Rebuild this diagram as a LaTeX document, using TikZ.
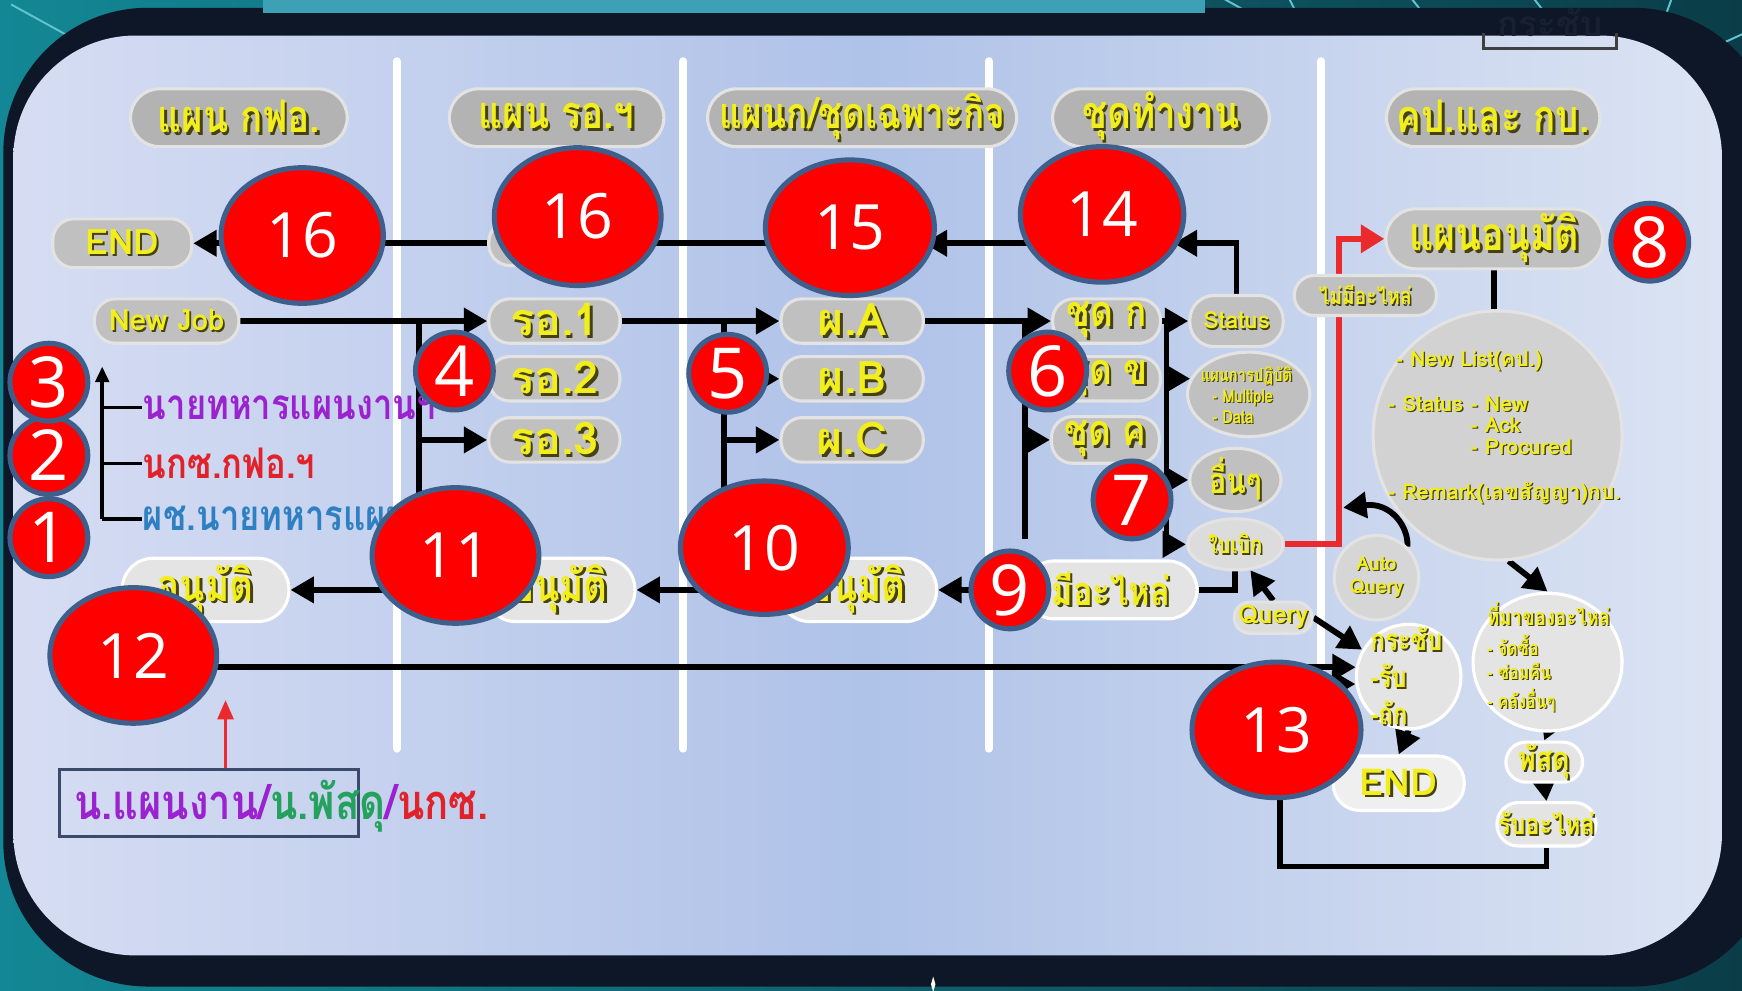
\documentclass[tikz,border=0pt]{standalone}
\usepackage{fontspec}
\usetikzlibrary{arrows.meta,calc,shapes.geometric}
\newfontfamily\thai[Script=Thai]{Loma}
\newfontfamily\thaic[Script=Thai,FakeStretch=0.82]{Loma}
\newfontfamily\numf{Open Sans}
\definecolor{ylw}{HTML}{F2EE1E}
\definecolor{ysh}{HTML}{45420F}
\definecolor{hdrc}{HTML}{B3B3B3}
\definecolor{pillc}{HTML}{C0C0C0}
\definecolor{pilll}{HTML}{E4E4E4}
\definecolor{c1}{HTML}{DCDCDC}
\definecolor{c2}{HTML}{D6D6D6}
\definecolor{c3}{HTML}{EFEFEF}
\definecolor{c4}{HTML}{D2D2D2}
\definecolor{rimc}{HTML}{3E5E8C}
\definecolor{tealA}{HTML}{138795}
\definecolor{tealB}{HTML}{0A3D48}
\definecolor{framec}{HTML}{0D1728}
\definecolor{panelL}{HTML}{D6DDF3}
\definecolor{panelM}{HTML}{AFC2E8}
\definecolor{panelR}{HTML}{DCE4F3}
\definecolor{purp}{HTML}{9B22CF}
\definecolor{redt}{HTML}{E2222B}
\definecolor{bluet}{HTML}{2E80C2}
\definecolor{grn}{HTML}{24A15C}
\definecolor{redl}{HTML}{EB2A2E}
\definecolor{rayc}{HTML}{63C3D0}
\definecolor{barc}{HTML}{3DA0B5}
\definecolor{boxc}{HTML}{3B4A6B}
\definecolor{faint}{HTML}{182032}
\newcommand\yl[1]{\makebox[0pt][l]{\kern0.06em\raisebox{-0.06em}{\textcolor{ysh}{#1}}}\textcolor{ylw}{#1}}
\newcommand\fs[1]{\fontsize{#1}{#1}\selectfont}
\pgfdeclarelayer{bg}\pgfdeclarelayer{lines}\pgfdeclarelayer{top}
\pgfsetlayers{bg,lines,main,top}
\tikzset{
  th/.style={font=\thai\bfseries\fs{#1}},
  thc/.style={font=\thaic\bfseries\fs{#1}},
  pill/.style={rounded corners=0.19cm, fill=pillc, draw=white!55!pillc, line width=0.8pt, inner sep=0pt},
  lpill/.style={pill, fill=pilll, draw=white},
  hdr/.style={pill, fill=hdrc, minimum height=0.52cm, rounded corners=0.26cm, thc=11.5},
  rowp/.style={pill, minimum height=0.40cm, th=11.5},
  oval/.style={ellipse, fill=pillc, draw=white!55!pillc, line width=0.8pt, inner sep=0pt},
  loval/.style={oval, fill=pilll, draw=white},
  txt/.style={inner sep=0pt},
  numE/.style={ellipse, fill=red, draw=rimc, line width=1.3pt, text=white, inner sep=0pt, font=\numf\fs{16}},
  numS/.style={numE, minimum width=0.70cm, minimum height=0.70cm, font=\numf\fs{18}},
  ln/.style={line width=1.5pt},
  arr/.style={line width=1.5pt, -{Triangle[length=6pt,width=6.5pt]}},
  redarr/.style={draw=redl, line width=1.6pt, -{Triangle[length=6pt,width=7pt]}},
  legl/.style={line width=0.9pt},
  sepl/.style={draw=white, line width=0.07cm, line cap=round},
  rayl/.style={draw=rayc, line width=0.5pt},
}
\begin{document}
\begin{tikzpicture}[x=0.01cm,y=-0.01cm]
\useasboundingbox (0,0) rectangle (1568,892);
\begin{pgfonlayer}{bg}
\shade[left color=tealA, right color=tealB] (0,0) rectangle (1568,892);
\draw[rayl] (1100,-2) -- (1150,26);
\draw[rayl] (1160,-2) -- (1174,26);
\draw[rayl] (1270,-2) -- (1292,26);
\draw[rayl] (1380,-2) -- (1402,26);
\draw[rayl] (1505,-2) -- (1486,50);
\draw[rayl] (1500,62) -- (1570,30);
\draw[rayl] (1530,120) -- (1570,100);
\draw[rayl] (10,4) -- (90,48);
\fill[framec, rounded corners=1.3cm] (3,7) rectangle (1600,888);
\fill[barc] (237,0) rectangle (1085,12);
\shade[rounded corners=1.1cm, left color=panelL, right color=panelR, middle color=panelM] (12,32) rectangle (1550,860);
\fill[white!90!yellow] (840,879) -- (842,886) -- (840,893) -- (838,886) -- cycle;
\node[th=9, text=faint] (tb) at (1395,20) {กระชับ};
\draw[black!75, line width=0.7pt] (1335,30) -- (1335,44) -- (1455,44) -- (1455,30);
\draw[sepl] (357,55) -- (357,674);
\draw[sepl] (615,55) -- (615,674);
\draw[sepl] (890,55) -- (890,674);
\draw[sepl] (1189,55) -- (1189,674);
\end{pgfonlayer}

% headers
\node[hdr, minimum width=1.95cm] (h1) at (215,106) {\yl{แผน กฟอ.}};
\node[hdr, minimum width=1.93cm] (h2) at (501,106) {\yl{แผน รอ.ฯ}};
\node[hdr, minimum width=2.78cm, thc=11] (h3) at (776,106) {\yl{แผนก/ชุดเฉพาะกิจ}};
\node[hdr, minimum width=1.95cm] (h4) at (1045,106) {\yl{ชุดทำงาน}};
\node[hdr, minimum width=1.92cm] (h5) at (1344,106) {\yl{คป.และ กบ.}};

% top row
\node[pill, minimum width=1.25cm, minimum height=0.44cm, th=9] (end1) at (110,219) {\yl{END}};
\node[pill, minimum width=1.20cm, minimum height=0.40cm] (p2) at (500,219) {};
\node[pill, minimum width=1.20cm, minimum height=0.40cm] (p3) at (770,219) {};
\node[pill, minimum width=1.10cm, minimum height=0.40cm] (p4) at (1000,219) {};

% rows
\node[pill, minimum width=1.30cm, minimum height=0.40cm, th=7.5] (nj) at (150,289) {\yl{New Job}};
\node[rowp, minimum width=1.18cm] (r1) at (499,289) {\yl{รอ.1}};
\node[rowp, minimum width=1.18cm] (r2) at (499,341) {\yl{รอ.2}};
\node[rowp, minimum width=1.18cm] (r3) at (499,396) {\yl{รอ.3}};
\node[rowp, minimum width=1.28cm] (pa) at (767,289) {\yl{ผ.A}};
\node[rowp, minimum width=1.28cm] (pb) at (767,341) {\yl{ผ.B}};
\node[rowp, minimum width=1.28cm] (pcc) at (767,396) {\yl{ผ.C}};
\node[rowp, minimum width=0.97cm, thc=11] (ka) at (996,289) {\yl{ชุด ก}};
\node[rowp, minimum width=0.97cm, thc=11] (kb) at (996,341) {\yl{ชุด ข}};
\node[rowp, minimum width=0.97cm, minimum height=0.42cm, thc=11] (kc) at (995,396) {\yl{ชุด ค}};
\node[pill, rounded corners=0.22cm, minimum width=0.84cm, minimum height=0.46cm, th=6] (st) at (1113,289) {\yl{Status}};
\node[oval, minimum width=1.10cm, minimum height=0.76cm] (pl) at (1124,355) {};
\node[txt, thc=4.6, align=left] (plt) at (1122,356) {\yl{แผนการปฏิบัติ}\\[0.8pt]\hspace*{3pt}\yl{- Multiple}\\[0.8pt]\hspace*{3pt}\yl{- Data}};
\node[oval, minimum width=0.82cm, minimum height=0.48cm, thc=9] (ot) at (1112,432) {\yl{อื่นๆ}};
\node[oval, fill=c1, minimum width=0.86cm, minimum height=0.46cm, thc=6.3] (bb) at (1112,490) {\yl{ใบเบิก}};
\node[lpill, rounded corners=0.26cm, minimum width=1.55cm, minimum height=0.52cm, thc=10.2] (mi) at (1000,531) {\yl{มีอะไหล่}};
\node[lpill, rounded corners=0.28cm, minimum width=1.42cm, minimum height=0.57cm, thc=11.5] (a3) at (772,531) {\yl{อนุมัติ}};
\node[lpill, rounded corners=0.28cm, minimum width=1.35cm, minimum height=0.57cm, thc=11.5] (a2) at (504,531) {\yl{อนุมัติ}};
\node[lpill, rounded corners=0.28cm, minimum width=1.50cm, minimum height=0.57cm, thc=11.5] (a1) at (185,531) {\yl{อนุมัติ}};
\node[pill, fill=c1, rounded corners=0.14cm, minimum width=0.70cm, minimum height=0.28cm, th=6.5] (q) at (1146,556) {\yl{Query}};
\node[oval, fill=c2, minimum size=0.76cm] (aq) at (1239,520) {};
\node[txt, th=5, align=center] (aqx) at (1239,520) {\yl{Auto}\\[1pt]\yl{Query}};
\node[loval, minimum size=0.94cm] (kr) at (1268,609) {};
\node[txt, thc=7.5, align=left] (krt) at (1266,609) {\yl{กระชับ}\\[2pt]\yl{-รับ}\\[2pt]\yl{-ถัก}};
\node[lpill, fill=c3, rounded corners=0.24cm, minimum width=1.18cm, minimum height=0.49cm, th=9.5] (e2) at (1259,705) {\yl{END}};
\node[loval, minimum width=1.34cm, minimum height=1.24cm] (src) at (1393,596) {};
\node[txt, thc=5, align=left] (srct) at (1394,592) {{\fs{5.8}\yl{ที่มาของอะไหล่}}\\[1pt]\yl{- จัดซื้อ}\\[1pt]\yl{- ซ่อมคืน}\\[1pt]\yl{- คลังอื่นๆ}};
\node[lpill, rounded corners=0.18cm, minimum width=0.69cm, minimum height=0.36cm, thc=8.4] (ps) at (1390,686) {\yl{พัสดุ}};
\node[lpill, rounded corners=0.19cm, minimum width=0.89cm, minimum height=0.39cm, thc=7.3] (rb) at (1392,742) {\yl{รับอะไหล่}};
\node[oval, fill=c4, minimum size=2.24cm] (big) at (1348,392) {};
\node[txt, th=5.5, align=left] (bigt) at (1354,385) {\hspace*{2pt}\yl{- New List(คป.)}\\[6pt]\yl{- Status - New}\\[0pt]\phantom{- Status }\yl{- Ack}\\[0pt]\phantom{- Status }\yl{- Procured}\\[6pt]\yl{- Remark(เลขสัญญา)กบ.}};
\node[pill, rounded corners=0.27cm, minimum width=1.95cm, minimum height=0.54cm, thc=11.8] (ap) at (1345,215) {\yl{แผนอนุมัติ}};
\node[pill, rounded corners=0.18cm, minimum width=1.28cm, minimum height=0.36cm, thc=6] (nm) at (1229,266) {\yl{ไม่มีอะไหล่}};

% legend
\coordinate (lgt) at (92,330);
\coordinate (lgb) at (92,467);
\node[thc=10.8, text=purp, anchor=west, inner sep=0pt] (lg3) at (128,367) {นายทหารแผนงานฯ};
\node[thc=10.8, text=redt, anchor=west, inner sep=0pt] (lg2) at (128,417) {นกซ.กฟอ.ฯ};
\node[thc=10.8, text=bluet, anchor=west, inner sep=0pt] (lg1) at (128,467) {ผช.นายทหารแผนงานฯ};

% bottom box
\node[draw=boxc, line width=0.8pt, minimum width=2.69cm, minimum height=0.60cm, inner sep=0pt] (bx) at (188,723) {};
\node[thc=12.5, anchor=west, inner sep=0pt] (bt) at (66,726) {\textcolor{purp}{น.แผนงาน/}\textcolor{grn}{น.พัสดุ}\textcolor{purp}{/}\textcolor{redt}{นกซ.}};
\coordinate (rt) at (203,630);

\begin{pgfonlayer}{lines}
\draw[arr] (p4.west) -- (p3.east);
\draw[arr] (p3.west) -- (p2.east);
\draw[arr] (p2.west) -- (end1.east);
\draw[arr] (st.north) |- (p4.east);
\draw[arr] (nj.east) -- (r1.west);
\coordinate (v2t) at (377,289); \coordinate (v2b) at (377,485);
\draw[ln] (v2t) -- (v2b);
\draw[arr] (v2t |- r2.west) -- (r2.west);
\draw[arr] (v2t |- r3.west) -- (r3.west);
\draw[arr] (r1.east) -- (pa.west);
\coordinate (v3t) at (652,289); \coordinate (v3b) at (652,485);
\draw[ln] (v3t) -- (v3b);
\draw[arr] (v3t |- pb.west) -- (pb.west);
\draw[arr] (v3t |- pcc.west) -- (pcc.west);
\draw[arr] (pa.east) -- (ka.west);
\coordinate (v4t) at (923,289); \coordinate (v4b) at (923,485);
\draw[ln] (v4t) -- (v4b);
\draw[arr] (v4t |- kb.west) -- (kb.west);
\draw[arr] (v4t |- kc.west) -- (kc.west);
\coordinate (v5t) at (1050,289); \coordinate (v5b) at (1050,490);
\draw[ln] (v5t) -- (v5b);
\draw[arr] (ka.east) -- (st.west);
\draw[arr] (v5t |- pl.165) -- (pl.165);
\draw[arr] (v5t |- ot.west) -- (ot.west);
\draw[arr] (v5t |- bb.west) -- (bb.west);
\coordinate (rj) at (1205,400);
\draw[redarr] (bb.east) -| (rj) |- (ap.west);
\draw[ln] (ap.south) -- (ap.south |- big.north);
\coordinate (aqt) at (1209,457);
\draw[arr] (aq.45) .. controls (1268,474) and (1252,452) .. (aqt);
\draw[ln] (mi.east) -| (bb.south);
\draw[arr] (mi.west) -- (a3.east);
\draw[arr] (a3.west) -- (a2.east);
\draw[arr] (a2.west) -- (a1.east);
\draw[arr] (q.north) -- (bb.-60);
\draw[arr] (q.east) -- (kr.150);
\draw[arr] (a1.south) |- (kr.170);
\coordinate (jb) at (1152,780);
\draw[arr] (rb.south) |- (jb) |- (kr.188);
\draw[arr] (kr.south) -- (e2.north);
\draw[arr] (big.-85) -- (src.north);
\draw[arr] (src.south) -- (ps.north);
\draw[arr] (ps.south) -- (rb.north);
\draw[legl, -{Triangle[length=4pt,width=3.5pt]}] (lgb) -- (lgt);
\draw[legl] (lgt |- lg3.west) -- (lg3.west);
\draw[legl] (lgt |- lg2.west) -- (lg2.west);
\draw[legl] (lgb) -- (lg1.west);
\draw[draw=redl, line width=1pt, -{Triangle[length=5pt,width=4pt]}] (bx.north -| rt) -- (rt);
\end{pgfonlayer}

\begin{pgfonlayer}{top}
\node[numE, minimum width=1.46cm, minimum height=1.22cm] (n16a) at (272,212) {16};
\node[numE, minimum width=1.50cm, minimum height=1.24cm] (n16b) at (520,195) {16};
\node[numE, minimum width=1.52cm, minimum height=1.22cm] (n15) at (765,205) {15};
\node[numE, minimum width=1.47cm, minimum height=1.22cm] (n14) at (992,193) {14};
\node[numE, minimum width=1.50cm, minimum height=1.22cm] (n11) at (410,500) {11};
\node[numE, minimum width=1.51cm, minimum height=1.20cm] (n10) at (688,493) {10};
\node[numE, minimum width=1.50cm, minimum height=1.22cm] (n12) at (120,590) {12};
\node[numE, minimum width=1.52cm, minimum height=1.22cm] (n13) at (1149,657) {13};
\node[numS] (n8) at (1485,218) {8};
\node[numS] (n4) at (409,334) {4};
\node[numS] (n5) at (655,336) {5};
\node[numS] (n6) at (943,334) {6};
\node[numS] (n7) at (1019,450) {7};
\node[numS] (n9) at (909,531) {9};
\node[numS] (n1) at (44,484) {1};
\node[numS] (n2) at (44,410) {2};
\node[numS] (n3) at (44,344) {3};
\end{pgfonlayer}
\end{tikzpicture}
\end{document}
